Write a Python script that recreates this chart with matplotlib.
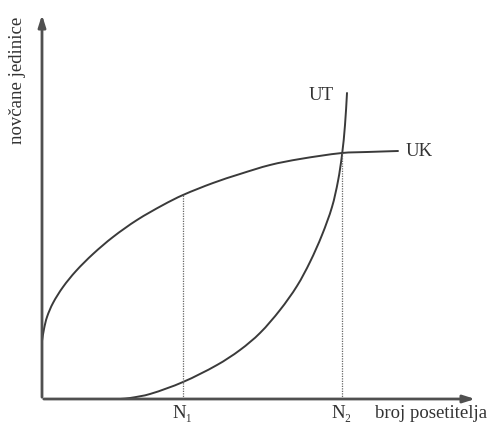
import matplotlib.pyplot as plt
import numpy as np
from matplotlib.path import Path
from matplotlib.patches import PathPatch

plt.rcParams['font.family'] = ['Liberation Serif', 'DejaVu Serif']

# curve points (arbitrary units, origin at the axes corner)
uk_x = [0, 2, 5, 11, 21, 34, 51, 71, 95, 121, 141, 171, 198, 228, 258, 300, 325, 356]
uk_y = [58, 70, 82, 96, 112, 128, 145, 162, 179, 194, 204, 216, 225, 234, 240, 246, 247, 248]

ut_x = [78, 88, 108, 141, 175, 198, 218, 238, 255, 268, 280, 290, 296, 300, 303, 305]
ut_y = [0, 1, 5, 17, 34, 49, 66, 89, 113, 137, 164, 192, 218, 244, 274, 306]

n_pos = [141, 300]
n_top = [204, 246]
n_labels = ['N₁', 'N₂']

curve_labels = {'UT': (279, 304), 'UK': (377, 248)}


def smooth_path(xs, ys):
    # Bezier through the read points, tangent = direction of neighbours,
    # handle length = third of each segment
    p = np.column_stack([xs, ys]).astype(float)
    n = len(p)
    tang = np.zeros_like(p)
    for i in range(n):
        a = p[max(i - 1, 0)]
        b = p[min(i + 1, n - 1)]
        d = b - a
        tang[i] = d / np.hypot(*d)
    verts = [tuple(p[0])]
    codes = [Path.MOVETO]
    for i in range(n - 1):
        seg = np.hypot(*(p[i + 1] - p[i])) / 3
        verts += [tuple(p[i] + tang[i] * seg), tuple(p[i + 1] - tang[i + 1] * seg),
                  tuple(p[i + 1])]
        codes += [Path.CURVE4] * 3
    return Path(verts, codes)


fig = plt.figure(figsize=(4.91, 4.29), dpi=100)
ax = fig.add_axes([42 / 491, 30 / 429, 436 / 491, 387 / 429])
ax.set_xlim(0, 436)
ax.set_ylim(0, 387)
ax.axis('off')

line_col = '#3a3a3a'
for xs, ys in [(uk_x, uk_y), (ut_x, ut_y)]:
    ax.add_patch(PathPatch(smooth_path(xs, ys), fc='none', ec=line_col, lw=1.4,
                           capstyle='round'))

# dotted guides from crossing points down to the x axis
for x, top in zip(n_pos, n_top):
    ax.plot([x, x], [0, top], color='#666666', lw=0.9, ls=(0, (1, 1)))

# axes with arrows
axis_col = '#505050'
arrow = dict(arrowstyle='-|>,head_length=0.7,head_width=0.22', color=axis_col, lw=2)
ax.annotate('', xy=(436, 0), xytext=(-1, 0), arrowprops=arrow, annotation_clip=False)
ax.annotate('', xy=(0, 387), xytext=(0, -1), arrowprops=arrow, annotation_clip=False)

txt_col = '#333333'
fs = 13.5
for x, lab in zip(n_pos, n_labels):
    ax.text(x, -15, lab, ha='center', va='center', fontsize=fs, color=txt_col)
ax.text(333, -15, 'broj posetitelja', ha='left', va='center', fontsize=fs, color=txt_col)
for lab, (x, y) in curve_labels.items():
    ax.text(x, y, lab, ha='center', va='center', fontsize=fs, color=txt_col)
ax.text(-24, 319, 'novčane jedinice', rotation=90, ha='center', va='center',
        fontsize=fs, color=txt_col)

fig.savefig('out.png', dpi=100)
